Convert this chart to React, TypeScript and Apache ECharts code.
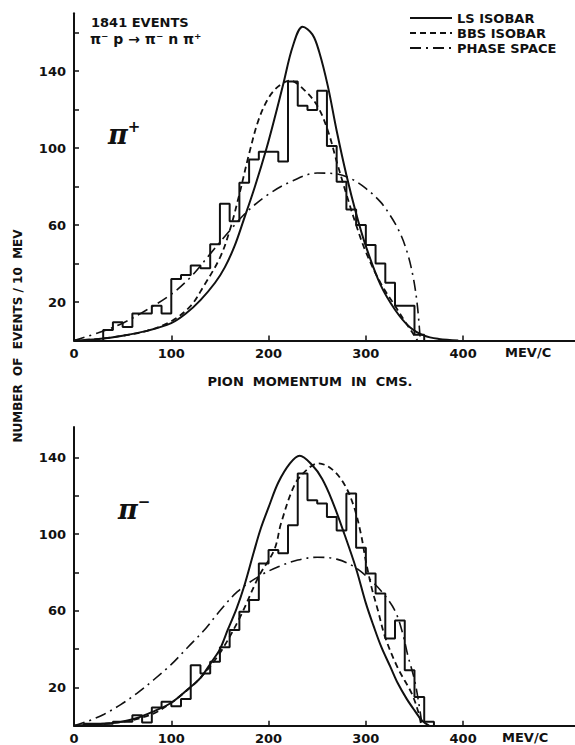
import React, { useEffect, useRef } from "react";
import * as echarts from "echarts";

// ---------- data ----------
const binWidth = 10; // MeV/c per histogram bin
// counts per 10 MeV bin, bins start at 0, 10, 20, ...
const piPlusCounts = [
  0, 0, 0, 5.5, 9.5, 7, 14, 14, 18, 14,
  32, 34, 39, 37.5, 50, 71, 62, 82, 94, 98,
  98, 93, 134.5, 122, 119.7, 129.8, 101, 82.5, 68, 60,
  49.6, 40, 30, 18, 18, 3,
];
const piMinusCounts = [
  0, 1, 1, 1, 2, 2, 5.5, 1.7, 9.5, 12.5,
  10.2, 14, 31.6, 27.3, 33.4, 41, 50, 59.5, 65.6, 84.7,
  91.7, 90, 104.7, 131.7, 117.8, 116, 109, 102, 121.3, 93,
  79.5, 69, 45.6, 55, 29, 15, 2,
];

const lsPlus = [
  [0, 0], [25, 0.8], [50, 2.5], [75, 5], [100, 9], [115, 14], [130, 21], [145, 30],
  [155, 38], [165, 49], [174, 62], [186, 80], [198, 100], [208, 119], [215, 133],
  [225, 153], [235, 163], [245, 159], [252, 150], [261, 132], [270, 109], [280, 86],
  [290, 66], [300, 49], [315, 29], [330, 16], [345, 7], [360, 2.5], [375, 0.8], [395, 0],
];
const bbsPlus = [
  [0, 0], [25, 0.8], [50, 2.5], [75, 5], [100, 10], [120, 18], [133, 28], [150, 43],
  [160, 57], [170, 76], [180, 97], [190, 115], [200, 126], [210, 132], [222, 135],
  [235, 131], [250, 122], [261, 109], [270, 93], [280, 76], [290, 60], [300, 46],
  [315, 30], [330, 18], [340, 10], [348, 4], [353, 0],
];
const psPlus = [
  [0, 0], [25, 4], [50, 9], [75, 16], [100, 24], [120, 33], [140, 45], [160, 57],
  [178, 67], [200, 76], [225, 83], [250, 87], [270, 86.5], [285, 84], [300, 79],
  [315, 72], [325, 65], [335, 56], [343, 45], [349, 32], [353, 18], [356, 0],
];
const lsMinus = [
  [0, 0], [10, 0.3], [30, 1], [48, 2], [65, 4], [82, 7.5], [100, 12], [117, 19],
  [130, 25], [141, 33], [150, 40], [158, 50], [167, 61], [175, 73], [185, 91],
  [192, 103], [200, 114], [210, 127], [222, 137], [232, 141], [245, 136], [255, 129],
  [265, 118], [278, 100], [290, 82], [300, 64], [308, 52], [316, 41], [325, 31],
  [333, 22], [342, 14], [350, 8], [358, 2.5], [365, 0],
];
const bbsMinus = [
  [0, 0], [50, 2], [80, 6], [100, 12], [115, 18], [130, 25], [150, 38], [170, 56],
  [190, 78], [206, 92], [213, 106], [227, 126], [240, 134], [251, 137], [265, 134],
  [278, 126], [288, 114], [295, 100], [300, 86], [306, 72], [312, 61], [320, 46],
  [333, 30], [347, 17], [354, 7], [357, 0],
];
const psMinus = [
  [0, 0], [15, 2.5], [31, 6], [48, 11], [65, 17], [82, 24], [100, 32], [117, 41],
  [134, 50], [150, 60], [168, 70], [190, 78], [210, 83], [230, 86.5], [250, 88],
  [270, 87], [288, 83], [305, 76], [318, 69], [330, 60], [338, 48], [343, 37],
  [350, 24], [354, 13], [358, 0],
];

const xTickLabels = [0, 100, 200, 300, 400];
const yTickMarks = [20, 40, 60, 80, 100, 120, 140, 160];
const yTickLabels = [20, 60, 100, 140];

const legendItems = ["LS ISOBAR", "BBS ISOBAR", "PHASE SPACE"];

// ---------- helpers ----------
function histogramPoints(counts: number[]) {
  const first = counts.findIndex((c) => c > 0);
  const pts: number[][] = [[first * binWidth, 0]];
  for (let i = first; i < counts.length; i++) pts.push([i * binWidth, counts[i]]);
  pts.push([counts.length * binWidth, 0]);
  return pts;
}

const INK = "#111";
const FONT = "DejaVu Sans";
const solidStyle = { color: INK, width: 2, type: "solid" as any };
const dashedStyle = { color: INK, width: 1.8, type: [6, 4] as any };
const dashDotStyle = { color: INK, width: 1.6, type: [11, 5, 2, 5] as any };

function xAxisFor(gridIndex: number) {
  return {
    type: "value",
    gridIndex,
    min: 0,
    max: 515,
    interval: 100,
    axisLine: { show: true, onZero: false, lineStyle: { color: INK, width: 2 } },
    axisTick: {
      show: true,
      inside: true,
      length: 5,
      customValues: xTickLabels,
      lineStyle: { color: INK, width: 1.5 },
    },
    axisLabel: {
      show: true,
      customValues: xTickLabels,
      margin: 6,
      color: INK,
      fontFamily: FONT,
      fontWeight: "bold",
      fontSize: 13,
    },
    splitLine: { show: false },
  };
}

function yAxisFor(gridIndex: number, max: number) {
  return {
    type: "value",
    gridIndex,
    min: 0,
    max,
    interval: 20,
    axisLine: { show: true, onZero: false, lineStyle: { color: INK, width: 2 } },
    axisTick: {
      show: true,
      inside: true,
      length: 5,
      customValues: yTickMarks,
      lineStyle: { color: INK, width: 1.5 },
    },
    axisLabel: {
      show: true,
      customValues: yTickLabels,
      margin: 8,
      color: INK,
      fontFamily: FONT,
      fontWeight: "bold",
      fontSize: 13,
    },
    splitLine: { show: false },
  };
}

function curveSeries(name: string, data: number[][], idx: number, style: any, z = 2) {
  return {
    name,
    type: "line",
    xAxisIndex: idx,
    yAxisIndex: idx,
    data,
    smooth: 0.35,
    showSymbol: false,
    symbol: "none",
    lineStyle: style,
    z,
  };
}

function histSeries(name: string, counts: number[], idx: number) {
  return {
    name,
    type: "line",
    xAxisIndex: idx,
    yAxisIndex: idx,
    data: histogramPoints(counts),
    step: "end",
    showSymbol: false,
    symbol: "none",
    lineStyle: { color: INK, width: 2 },
    z: 3,
  };
}

const textStyle = (size = 13) => ({
  fill: INK,
  fontFamily: FONT,
  fontWeight: "bold",
  fontSize: size,
});

const piRich = {
  p: { fontFamily: "DejaVu Serif", fontStyle: "italic", fontWeight: "bold", fontSize: 27, fill: INK },
  s: { fontFamily: FONT, fontWeight: "bold", fontSize: 15, fill: INK, padding: [0, 0, 14, 0] },
};

export default function App() {
  const ref = useRef<HTMLDivElement>(null);

  useEffect(() => {
    if (!ref.current) return;
    const chart = echarts.init(ref.current, undefined, { renderer: "svg" });
    const legendStyles = [solidStyle, dashedStyle, dashDotStyle];
    const legendRows = [18, 33, 48];

    const graphics: any[] = [];
    legendItems.forEach((label, i) => {
      const s = legendStyles[i];
      graphics.push({
        type: "line",
        shape: { x1: 410, y1: legendRows[i], x2: 452, y2: legendRows[i] },
        style: { stroke: INK, lineWidth: 1.8, lineDash: Array.isArray(s.type) ? s.type : null },
      });
      graphics.push({
        type: "text",
        x: 457,
        y: legendRows[i],
        style: { ...textStyle(13), text: label, verticalAlign: "middle", align: "left" },
      });
    });
    graphics.push(
      {
        type: "text",
        x: 91,
        y: 22,
        style: { ...textStyle(13), text: "1841 EVENTS", verticalAlign: "middle" },
      },
      {
        type: "text",
        x: 90,
        y: 39,
        style: { ...textStyle(14), text: "π⁻ p → π⁻ n π⁺", verticalAlign: "middle" },
      },
      {
        type: "text",
        x: 108,
        y: 134,
        style: { text: "{p|π}{s|+}", verticalAlign: "middle", rich: piRich },
      },
      {
        type: "text",
        x: 118,
        y: 509,
        style: { text: "{p|π}{s|−}", verticalAlign: "middle", rich: piRich },
      },
      {
        type: "text",
        x: 505,
        y: 352,
        style: { ...textStyle(13), text: "MEV/C", verticalAlign: "middle" },
      },
      {
        type: "text",
        x: 502,
        y: 737,
        style: { ...textStyle(13), text: "MEV/C", verticalAlign: "middle" },
      },
      {
        type: "text",
        x: 310,
        y: 381,
        style: { ...textStyle(13), text: "PION  MOMENTUM  IN  CMS.", align: "center", verticalAlign: "middle" },
      },
      {
        type: "text",
        x: 18,
        y: 336,
        rotation: Math.PI / 2,
        style: { ...textStyle(12), text: "NUMBER  OF  EVENTS / 10  MEV", align: "center", verticalAlign: "middle" },
      }
    );

    chart.setOption({
      animation: false,
      backgroundColor: "#ffffff",
      grid: [
        { left: 74, top: 13.25, width: 501, height: 327.25, containLabel: false },
        { left: 74, top: 427, width: 501, height: 298.7, containLabel: false },
      ],
      xAxis: [xAxisFor(0), xAxisFor(1)],
      yAxis: [yAxisFor(0, 170), yAxisFor(1, 156)],
      series: [
        histSeries("π+ events", piPlusCounts, 0),
        curveSeries("LS ISOBAR", lsPlus, 0, solidStyle),
        curveSeries("BBS ISOBAR", bbsPlus, 0, dashedStyle),
        curveSeries("PHASE SPACE", psPlus, 0, dashDotStyle),
        histSeries("π- events", piMinusCounts, 1),
        curveSeries("LS ISOBAR ", lsMinus, 1, solidStyle),
        curveSeries("BBS ISOBAR ", bbsMinus, 1, dashedStyle),
        curveSeries("PHASE SPACE ", psMinus, 1, dashDotStyle),
      ],
      graphic: graphics,
    });
    return () => chart.dispose();
  }, []);

  return (
    <div
      ref={ref}
      style={{ position: "fixed", left: 0, top: 0, width: 575, height: 745, background: "#fff" }}
    />
  );
}
